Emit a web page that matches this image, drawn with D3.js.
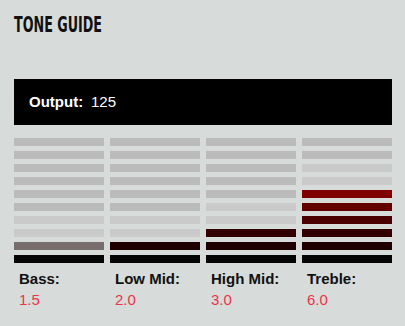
<!DOCTYPE html>
<html><head><meta charset="utf-8">
<script src="https://cdn.jsdelivr.net/npm/d3@7/dist/d3.min.js"></script>
<style>html,body{margin:0;padding:0;background:#d7dbda;}svg{display:block;}</style>
</head><body><svg id="c" width="405" height="326"></svg>
<script>
const title = "TONE GUIDE";
const outputLabel = "Output:";
const outputValue = "125";
const categories = ["Bass:", "Low Mid:", "High Mid:", "Treble:"];
const values = [1.5, 2.0, 3.0, 6.0];
const levels = [1,2,3,4,5,6,7,8,9,10];
const levelColors = ["#050505","#1f0000","#330000","#4a0000","#620000","#800000","#990000","#b30000","#cc0000","#e60000"];
const partialColor = "#786d6d";
const emptyColor = "#bbbbbb";
const nearColor = "#c9cac9";

const svg = d3.select("#c");
svg.append("text").attr("x",14).attr("y",32).text(title)
  .attr("font-family","'DejaVu Sans Condensed','DejaVu Sans',sans-serif").attr("font-weight","bold")
  .attr("font-size",22).attr("fill","#111").attr("textLength",88).attr("lengthAdjust","spacingAndGlyphs");

svg.append("rect").attr("x",14).attr("y",79).attr("width",378).attr("height",46).attr("fill","#000");
svg.append("text").attr("x",29).attr("y",107).attr("font-family","'Liberation Sans',Arial,sans-serif")
  .attr("font-size",15).attr("font-weight","bold").attr("fill","#fff").text(outputLabel);
svg.append("text").attr("x",91).attr("y",107).attr("font-family","'Liberation Sans',Arial,sans-serif")
  .attr("font-size",15).attr("fill","#fff").text(outputValue);

const x = d3.scaleBand().domain(categories).range([14,392]).paddingInner(6/96).paddingOuter(0);
// rows: level 10 at top, level 1 at bottom
const y = d3.scaleBand().domain(levels.slice().reverse()).range([138,263]).paddingInner(5/13).paddingOuter(0);

function segColor(v, i){
  if (i <= Math.floor(v)) return levelColors[i-1];
  if (i - 1 < v && v < i) return partialColor;
  if (i <= Math.ceil(v) + 2) return nearColor;
  return emptyColor;
}

const cols = svg.selectAll("g.col").data(categories.map((c,k)=>({c, v: values[k]}))).join("g").attr("class","col");
cols.selectAll("rect").data(d => levels.map(i => ({c:d.c, v:d.v, i})))
  .join("rect")
  .attr("x", d => x(d.c)).attr("y", d => y(d.i))
  .attr("width", x.bandwidth()).attr("height", y.bandwidth())
  .attr("fill", d => segColor(d.v, d.i));

cols.append("text").attr("x", d => x(d.c)+5).attr("y", 284)
  .attr("font-family","'Liberation Sans',Arial,sans-serif").attr("font-size",15).attr("font-weight","bold")
  .attr("fill","#111").text(d => d.c);
cols.append("text").attr("x", d => x(d.c)+5).attr("y", 305)
  .attr("font-family","'Liberation Sans',Arial,sans-serif").attr("font-size",15)
  .attr("fill","#ee3348").text(d => d.v.toFixed(1));
</script></body></html>
